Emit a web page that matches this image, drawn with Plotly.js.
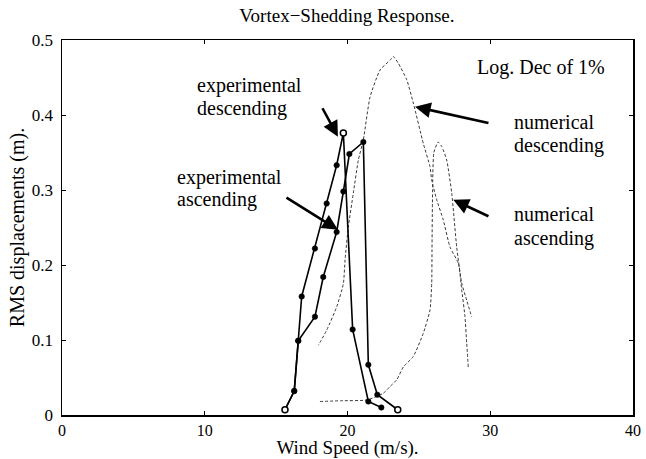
<!DOCTYPE html>
<html>
<head>
<meta charset="utf-8">
<script src="https://cdn.plot.ly/plotly-3.0.1.min.js"></script>
<style>html,body{margin:0;padding:0;background:#fff;}#chart{width:646px;height:459px;}</style>
</head>
<body>
<div id="chart"></div>
<script>
// Experimental ascending (wind speed m/s, RMS displacement m)
const expAscSpeed = [15.62, 16.27, 16.55, 17.72, 18.30, 19.24, 19.71, 20.13, 21.11, 21.46, 22.09, 23.52];
const expAscRms   = [0.007, 0.032, 0.099, 0.131, 0.184, 0.244, 0.298, 0.348, 0.364, 0.067, 0.027, 0.007];

// Experimental descending
const expDescSpeed = [22.37, 21.46, 20.36, 19.71, 19.24, 18.54, 17.72, 16.79, 16.55, 16.27, 15.62];
const expDescRms   = [0.010, 0.018, 0.114, 0.376, 0.333, 0.282, 0.222, 0.158, 0.099, 0.032, 0.007];

// Numerical ascending
const numAscSpeed = [18.07, 19.50, 21.35, 22.51, 22.98, 23.45, 23.91, 24.61, 25.31, 25.78, 25.90, 25.92, 25.95, 26.05, 26.35, 26.60, 26.95, 27.30, 27.65, 28.00, 28.35, 28.70];
const numAscRms   = [0.018, 0.019, 0.020, 0.029, 0.038, 0.047, 0.064, 0.078, 0.109, 0.140, 0.176, 0.220, 0.283, 0.350, 0.364, 0.358, 0.340, 0.296, 0.224, 0.176, 0.153, 0.131];

// Numerical descending
const numDescSpeed = [28.46, 28.35, 28.23, 28.00, 27.77, 27.18, 26.71, 26.25, 25.90, 25.78, 25.31, 24.61, 24.15, 23.56, 23.21, 22.98, 22.28, 21.58, 21.11, 20.76, 20.41, 20.06, 19.83, 19.71, 19.24, 18.54, 17.96];
const numDescRms   = [0.064, 0.096, 0.131, 0.167, 0.202, 0.224, 0.260, 0.287, 0.313, 0.331, 0.362, 0.416, 0.447, 0.469, 0.478, 0.473, 0.460, 0.424, 0.367, 0.340, 0.296, 0.251, 0.207, 0.175, 0.144, 0.113, 0.093];

// Axis ticks
const xTickVals = [0, 10, 20, 30, 40];
const xTickText = ['0', '10', '20', '30', '40'];
const yTickVals = [0, 0.1, 0.2, 0.3, 0.4, 0.5];
const yTickText = ['0', '0.1', '0.2', '0.3', '0.4', '0.5'];

const SERIF = '"Liberation Serif", "Times New Roman", serif';

const numLine = {color: '#3a3a3a', width: 1, dash: '3px,2px', shape: 'spline', smoothing: 0.5};
const expLine = {color: '#000', width: 1.6};
const expMarker = {symbol: 'circle', size: 5.5, color: '#000', line: {width: 0.5, color: '#000'}};
const openMarker = {symbol: 'circle', size: 6, color: '#fff', line: {width: 1.5, color: '#000'}};

// open circles at run ends / descending peak, taken from the data arrays
const iPeak = expDescRms.indexOf(Math.max(...expDescRms));
const openX = [expAscSpeed[0], expAscSpeed[expAscSpeed.length - 1], expDescSpeed[iPeak]];
const openY = [expAscRms[0], expAscRms[expAscRms.length - 1], expDescRms[iPeak]];

const traces = [
  {x: numAscSpeed, y: numAscRms, mode: 'lines', line: numLine, name: 'numerical ascending'},
  {x: numDescSpeed, y: numDescRms, mode: 'lines', line: numLine, name: 'numerical descending'},
  {x: expAscSpeed, y: expAscRms, mode: 'lines+markers', line: expLine, marker: expMarker, name: 'experimental ascending'},
  {x: expDescSpeed, y: expDescRms, mode: 'lines+markers', line: expLine, marker: expMarker, name: 'experimental descending'},
  {x: openX, y: openY, mode: 'markers', marker: openMarker, hoverinfo: 'skip', name: 'ends'}
];

function label(text, x, y) {
  return {text: text, x: x, y: y, xref: 'x', yref: 'y', xanchor: 'left', yanchor: 'middle',
          showarrow: false, font: {family: SERIF, size: 20, color: '#000'}};
}
function arrow(x, y, ax, ay) {
  return {text: '', x: x, y: y, ax: ax, ay: ay, xref: 'x', yref: 'y', axref: 'x', ayref: 'y',
          showarrow: true, arrowhead: 2, arrowsize: 1.2, arrowwidth: 2.6, arrowcolor: '#000', standoff: 0};
}

const layout = {
  width: 646, height: 459,
  margin: {l: 62, r: 13, t: 40, b: 44, pad: 0},
  paper_bgcolor: '#fff', plot_bgcolor: '#fff',
  showlegend: false,
  title: {text: 'Vortex\u2212Shedding Response.', font: {family: SERIF, size: 19, color: '#000'},
          x: 0.537, xanchor: 'center', y: 0.967, yanchor: 'middle'},
  xaxis: {range: [0, 40], tickvals: xTickVals, ticktext: xTickText, ticks: 'inside', ticklen: 4,
          tickcolor: '#000', showgrid: false, zeroline: false, showline: true, linecolor: '#000', linewidth: 1.5,
          mirror: 'ticks', tickfont: {family: SERIF, size: 16, color: '#000'}, ticklabelstandoff: 0,
          title: {text: 'Wind Speed (m/s).', font: {family: SERIF, size: 19, color: '#000'}, standoff: 0}},
  yaxis: {range: [0, 0.5], tickvals: yTickVals, ticktext: yTickText, ticks: 'inside', ticklen: 4,
          tickcolor: '#000', showgrid: false, zeroline: false, showline: true, linecolor: '#000', linewidth: 1.5,
          mirror: 'ticks', tickfont: {family: SERIF, size: 17, color: '#000'}, ticklabelstandoff: 4,
          title: {text: 'RMS displacements (m).', font: {family: SERIF, size: 20, color: '#000'}, standoff: 2}},
  annotations: [
    label('experimental', 9.32, 0.440),
    label('descending', 9.32, 0.409),
    label('experimental', 7.92, 0.317),
    label('ascending', 7.92, 0.287),
    label('numerical', 31.52, 0.391),
    label('descending', 31.52, 0.359),
    label('numerical', 31.52, 0.268),
    label('ascending', 31.52, 0.236),
    label('Log. Dec of 1%', 28.93, 0.464),
    arrow(19.33, 0.371, 18.19, 0.411),
    arrow(19.33, 0.247, 15.62, 0.291),
    arrow(24.73, 0.411, 29.98, 0.389),
    arrow(27.41, 0.287, 29.98, 0.264)
  ]
};

Plotly.newPlot('chart', traces, layout, {displayModeBar: false, staticPlot: true});
</script>
</body>
</html>
